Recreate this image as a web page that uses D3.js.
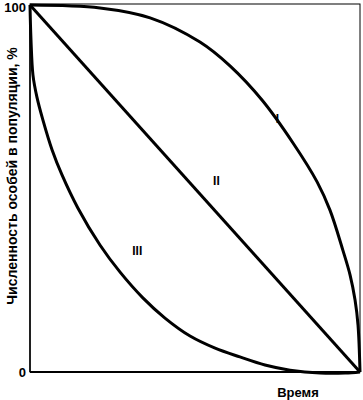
<!DOCTYPE html>
<html>
<head>
<meta charset="utf-8">
<script src="https://cdn.jsdelivr.net/npm/d3@7"></script>
<style>
  body { margin: 0; background: #fff; }
  text { font-family: "Liberation Sans", Arial, sans-serif; font-weight: bold; fill: #000; }
</style>
</head>
<body>
<svg class="svg1" width="363" height="400"></svg>
<script>
// time as share of life span, survivors in %
var timeI = [0, 0.212, 0.364, 0.515, 0.606, 0.703, 0.797, 0.870, 0.909, 0.948, 0.970, 0.985, 0.994, 1];
var survI = [100, 99.2, 96.5, 89.9, 83.4, 74.1, 62.4, 51.8, 44.1, 33.2, 26.4, 19.6, 12.8, 0];

var timeII = [0, 1];
var survII = [100, 0];

var timeIII = [0, 0.003, 0.009, 0.021, 0.039, 0.067, 0.097, 0.145, 0.212, 0.273, 0.342, 0.409, 0.485, 0.561, 0.636, 0.712, 0.788, 0.879, 0.955, 1];
var survIII = [100, 90.5, 80.9, 74.9, 68.7, 60.5, 53.7, 44.7, 34.6, 27.2, 20.2, 14.7, 9.8, 6.5, 4.1, 1.9, 0.5, -0.3, -0.3, 0];

var yTicks = [0, 100];
var curveLabels = [
  {name: "I", t: 0.75, v: 69},
  {name: "II", t: 0.565, v: 52},
  {name: "III", t: 0.325, v: 33}
];

var svg = d3.select(".svg1"),
    margin = {top: 5, right: 3, bottom: 28, left: 30},
    width = svg.attr("width") - margin.left - margin.right,
    height = svg.attr("height") - margin.top - margin.bottom;

var x = d3.scaleLinear().domain([0, 1]).range([0, width]),
    y = d3.scaleLinear().domain([0, 100]).range([height, 0]);

var line = d3.line()
    .curve(d3.curveCatmullRom.alpha(0.5))
    .x(function(d) { return x(d.t); })
    .y(function(d) { return y(d.v); });

function pack(ts, vs) {
  return ts.map(function(t, i) { return {t: t, v: vs[i]}; });
}

var g = svg.append("g").attr("transform", "translate(" + margin.left + "," + margin.top + ")");

// thin frame
g.append("rect")
    .attr("x", 0).attr("y", -1)
    .attr("width", width).attr("height", height + 1)
    .attr("fill", "none")
    .attr("stroke", "#000")
    .attr("stroke-width", 1);
g.append("line")
    .attr("x1", 0).attr("x2", width)
    .attr("y1", height).attr("y2", height)
    .attr("stroke", "#000").attr("stroke-width", 2);
g.append("line")
    .attr("x1", 0).attr("x2", 0)
    .attr("y1", 0).attr("y2", height)
    .attr("stroke", "#000").attr("stroke-width", 1.5);

var yAxis = g.append("g")
    .call(d3.axisLeft(y).tickValues(yTicks).tickSize(0).tickPadding(4).tickFormat(d3.format("d")));
yAxis.select(".domain").remove();
yAxis.selectAll("text")
    .style("font-size", "13px")
    .style("font-family", "Liberation Sans, Arial, sans-serif")
    .style("font-weight", "bold")
    .attr("dy", function(d) { return d === 100 ? "0.5em" : "0.32em"; });

var series = [pack(timeI, survI), pack(timeII, survII), pack(timeIII, survIII)];

g.selectAll(".curve")
  .data(series)
  .enter().append("path")
    .attr("class", "curve")
    .attr("d", line)
    .attr("fill", "none")
    .attr("stroke", "#000")
    .attr("stroke-width", 3)
    .attr("stroke-linejoin", "round");

g.selectAll(".lbl")
  .data(curveLabels)
  .enter().append("text")
    .attr("class", "lbl")
    .attr("x", function(d) { return x(d.t); })
    .attr("y", function(d) { return y(d.v); })
    .attr("text-anchor", "middle")
    .attr("dy", "0.35em")
    .style("font-size", "12px")
    .text(function(d) { return d.name; });

svg.append("text")
    .attr("x", 298)
    .attr("y", 397)
    .attr("text-anchor", "middle")
    .style("font-size", "13px")
    .text("Время");

svg.append("text")
    .attr("transform", "translate(17,176) rotate(-90)")
    .attr("text-anchor", "middle")
    .style("font-size", "14px")
    .text("Численность особей в популяции, %");
</script>
</body>
</html>
